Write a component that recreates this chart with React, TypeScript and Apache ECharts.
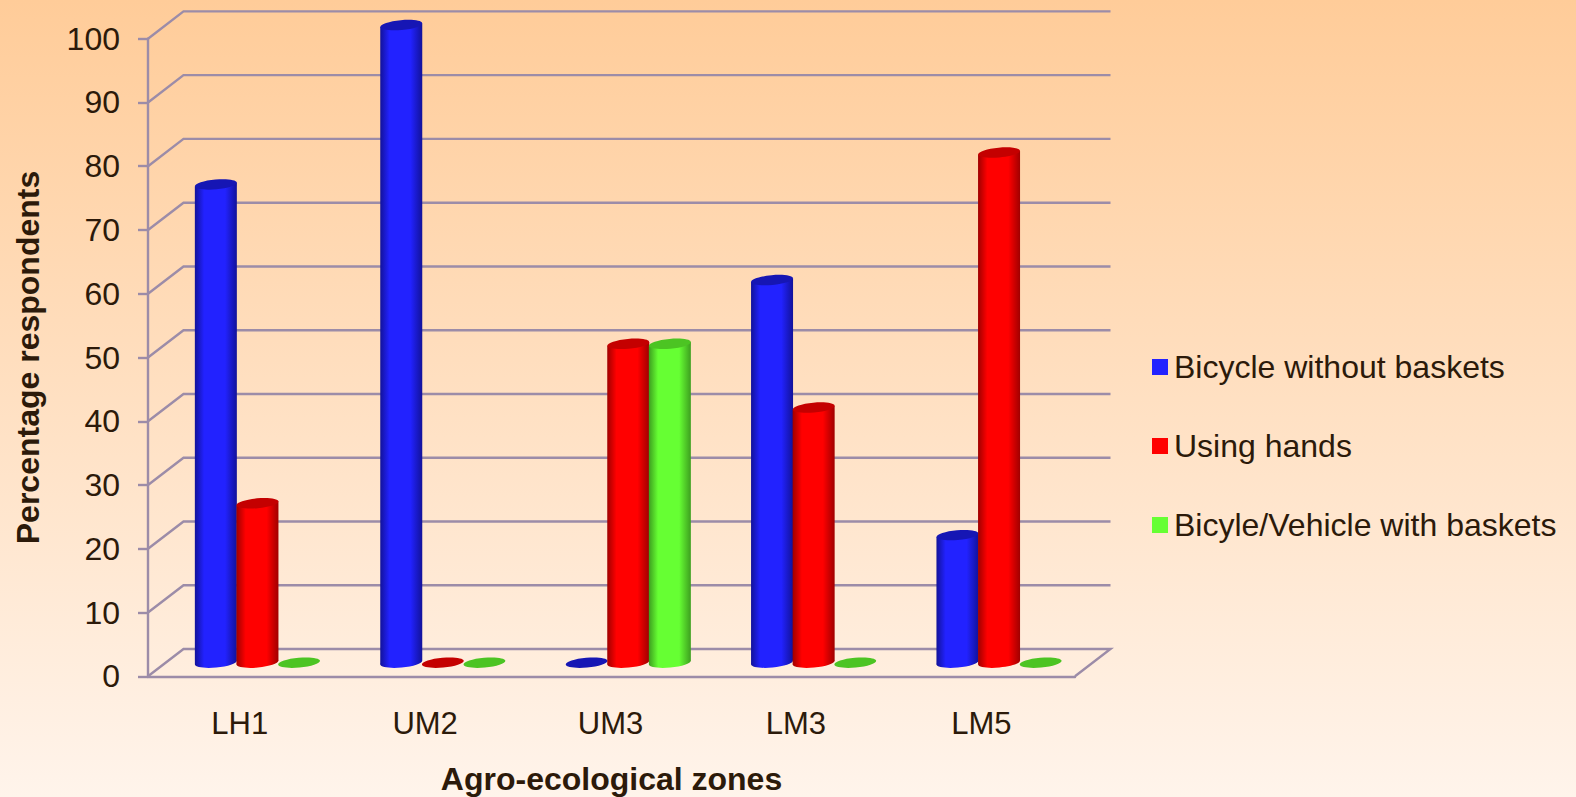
import React, { useEffect, useRef } from "react";
import * as echarts from "echarts";

const categories = ["LH1", "UM2", "UM3", "LM3", "LM5"];
const bicycleWithoutBaskets = [75, 100, 0, 60, 20];
const usingHands = [25, 0, 50, 40, 80];
const bicycleVehicleWithBaskets = [0, 0, 50, 0, 0];
const yTicks = [0, 10, 20, 30, 40, 50, 60, 70, 80, 90, 100];

const DX = 35.5;
const DY = 27.3;
const BAR_W = 41.6;
const BAR_SHIFT = -1;
const RY = 4.9;
const TILT = 0.09;
const LINE = "#9c8ca8";
const LINE_W = 2.4;
const TEXT = "#2c1a0a";
const FONT = "'Liberation Sans', Arial, sans-serif";

const gradient = (edge: string, mid: string) => ({
  type: "linear", x: 0, y: 0, x2: 1, y2: 0,
  colorStops: [
    { offset: 0, color: edge },
    { offset: 0.22, color: mid },
    { offset: 0.72, color: mid },
    { offset: 1, color: edge },
  ],
});

const cylinder = (index: number, edge: string, mid: string, cap: string) => (params: any, api: any) => {
  const cat = api.value(0);
  const val = api.value(1);
  const top = api.coord([cat, val]);
  const zero = api.coord([cat, 0]);
  const cx = top[0] + DX / 2 + BAR_SHIFT + (index - 1) * BAR_W;
  const topY = top[1] - DY / 2;
  const baseY = zero[1] - DY / 2;
  const rx = BAR_W / 2 + 0.2;
  const d = rx * Math.sin(TILT);
  const ellipse = (y: number, fill: any) => ({
    type: "ellipse", x: cx, y, rotation: TILT,
    shape: { cx: 0, cy: 0, rx, ry: RY }, style: { fill },
  });
  if (val === 0) return { type: "group", children: [ellipse(baseY, cap)] };
  const fill = gradient(edge, mid);
  return {
    type: "group",
    children: [
      ellipse(baseY, fill),
      {
        type: "polygon",
        shape: { points: [[cx - rx, topY + d], [cx + rx, topY - d], [cx + rx, baseY - d], [cx - rx, baseY + d]] },
        style: { fill },
      },
      ellipse(topY, cap),
    ],
  };
};

const grid3d = (params: any, api: any) => {
  const v = api.value(0);
  const cs = params.coordSys;
  const y = api.coord([0, v])[1];
  const x0 = cs.x;
  const x1 = cs.x + cs.width;
  const pts = [[x0, y], [x0 + DX, y - DY], [x1 + DX, y - DY]];
  if (v === 0) pts.push([x1, y]);
  return {
    type: "polyline", shape: { points: pts },
    style: { stroke: LINE, lineWidth: LINE_W, fill: "none" },
  };
};

const rows = (vals: number[]) => vals.map((v, i) => [i, v]);

export default function App() {
  const ref = useRef<HTMLDivElement>(null);
  useEffect(() => {
    document.body.style.margin = "0";
    const chart = echarts.init(ref.current!, undefined, { renderer: "svg" });
    const series = (name: string, vals: number[], i: number, swatch: string, edge: string, mid: string, cap: string) => ({
      type: "custom", name, clip: false, data: rows(vals),
      encode: { x: 0, y: 1 }, itemStyle: { color: swatch },
      renderItem: cylinder(i, edge, mid, cap), z: 3 + i,
    });
    chart.setOption({
      animation: false,
      backgroundColor: {
        type: "linear", x: 0, y: 0, x2: 0, y2: 1,
        colorStops: [{ offset: 0, color: "#ffcc99" }, { offset: 1, color: "#fff4eb" }],
      },
      grid: { left: 148, top: 38.7, width: 927, height: 637.6, containLabel: false, outerBoundsMode: "none" },
      legend: {
        orient: "vertical", left: 1147, top: 346, itemWidth: 16, itemHeight: 16, itemGap: 47,
        icon: "rect",
        data: ["Bicycle without baskets", "Using hands", "Bicyle/Vehicle with baskets"],
        textStyle: { fontFamily: FONT, fontSize: 32, color: TEXT, padding: [0, 0, 0, 1] },
      },
      xAxis: {
        type: "category", data: categories, name: "Agro-ecological zones",
        nameLocation: "middle", nameGap: 87,
        nameTextStyle: { fontFamily: FONT, fontSize: 32, fontWeight: "bold", color: TEXT },
        axisLine: { lineStyle: { color: LINE, width: LINE_W } },
        axisTick: { length: 10, lineStyle: { color: LINE, width: LINE_W } },
        axisLabel: { fontFamily: FONT, fontSize: 31, color: TEXT, margin: 32, padding: [0, 2, 0, 0] },
        splitLine: { show: false },
      },
      yAxis: {
        type: "value", min: 0, max: 100, interval: 10, name: "Percentage respondents",
        nameLocation: "middle", nameGap: 104, nameRotate: 90,
        nameTextStyle: { fontFamily: FONT, fontSize: 32, fontWeight: "bold", color: TEXT },
        axisLine: { show: true, lineStyle: { color: LINE, width: LINE_W } },
        axisTick: { show: true, length: 10, lineStyle: { color: LINE, width: LINE_W } },
        axisLabel: { fontFamily: FONT, fontSize: 32, color: TEXT, margin: 28 },
        splitLine: { show: false },
      },
      series: [
        {
          type: "custom", name: "grid", clip: false, silent: true, z: 1,
          data: yTicks.map((v) => [v]), encode: { y: 0 }, renderItem: grid3d,
        },
        series("Bicycle without baskets", bicycleWithoutBaskets, 0, "#2222ff", "#12129a", "#2222ff", "#1616b4"),
        series("Using hands", usingHands, 1, "#ff0000", "#a00000", "#ff0000", "#c40000"),
        series("Bicyle/Vehicle with baskets", bicycleVehicleWithBaskets, 2, "#66ff33", "#3d9f1f", "#66ff33", "#4cc423"),
      ],
    });
    return () => chart.dispose();
  }, []);
  return <div ref={ref} style={{ position: "absolute", left: 0, top: 0, width: 1576, height: 797 }} />;
}
